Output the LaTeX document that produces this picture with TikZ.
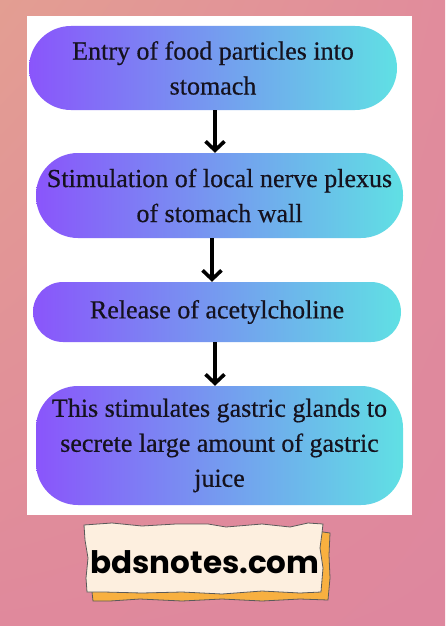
\documentclass[tikz,border=0pt]{standalone}
\usepackage{fontspec}
\setmainfont{Liberation Serif}[FakeBold=0.5]
\newfontfamily\labelfont{Poppins}
\usetikzlibrary{arrows.meta,shadings}
\definecolor{bgTL}{HTML}{E39E92}
\definecolor{bgTR}{HTML}{E18C9C}
\definecolor{bgBL}{HTML}{E0899C}
\definecolor{bgBR}{HTML}{DE879E}
\definecolor{gradL}{HTML}{8A55FB}
\definecolor{gradR}{HTML}{60E0E4}
\definecolor{txt}{HTML}{15121E}
\definecolor{paper}{HTML}{FDEFDF}
\definecolor{paperShadow}{HTML}{F8B040}
\definecolor{paperEdge}{HTML}{5A5A5A}
\tikzset{
  flowbox/.style={left color=gradL, right color=gradR, draw=none, align=center,
    text=txt, font=\fontsize{26}{35}\selectfont, inner sep=0pt},
  flowarrow/.style={line width=3.6pt, -{Straight Barb[length=9pt,width=19pt,line width=3.6pt]}, black}
}
\begin{document}
\begin{tikzpicture}[x=1pt,y=-1pt]
\useasboundingbox (0,0) rectangle (445,626);
\shade[upper left=bgTL, upper right=bgTR, lower left=bgBL, lower right=bgBR] (0,0) rectangle (445,626);
\fill[white] (27,16) rectangle (412,515);
\node[flowbox, rounded corners=42pt, minimum width=368pt, minimum height=84pt] (b1) at (213,68)
  {Entry of food particles into\\stomach};
\node[flowbox, rounded corners=42pt, minimum width=367pt, minimum height=85pt] (b2) at (219.5,195.5)
  {Stimulation of local nerve plexus\\of stomach wall};
\node[flowbox, rounded corners=30pt, minimum width=368pt, minimum height=60pt] (b3) at (217,312)
  {Release of acetylcholine};
\node[flowbox, rounded corners=42pt, minimum width=367pt, minimum height=119pt] (b4) at (219.5,445.5)
  {This stimulates gastric glands to\\secrete large amount of gastric\\juice};
\draw[flowarrow] ([xshift=2pt]b1.south) -- ([xshift=-4.5pt]b2.north);
\draw[flowarrow] ([xshift=-7.5pt]b2.south) -- ([xshift=-5pt]b3.north);
\draw[flowarrow] ([xshift=-2pt]b3.south) -- ([xshift=-4.5pt]b4.north);
% paper label
\filldraw[fill=paperShadow, draw=paperEdge, line width=0.8pt]
  (316,531) -- (330,533) -- (329,555) -- (330,578) -- (328,600) -- (300,599) -- (262,601)
  -- (222,599) -- (182,601) -- (140,599) -- (110,601) -- (93,601) -- (92,592) -- cycle;
\filldraw[fill=paper, draw=paperEdge, line width=0.8pt]
  (84,525) -- (112,523) -- (142,526) -- (176,524) -- (208,524) -- (226,527) -- (262,524)
  -- (290,527) -- (308,523) -- (323,524) -- (322,533) -- (320,548) -- (323,568) -- (321,592)
  -- (300,593) -- (262,591) -- (222,594) -- (182,592) -- (142,593) -- (104,592) -- (87,592)
  -- (86,578) -- (88,558) -- (85,540) -- cycle;
\node[font=\labelfont\bfseries\fontsize{31}{31}\selectfont, text=black, inner sep=0pt] (lbl) at (205,562) {bdsnotes.com};
\end{tikzpicture}
\end{document}
